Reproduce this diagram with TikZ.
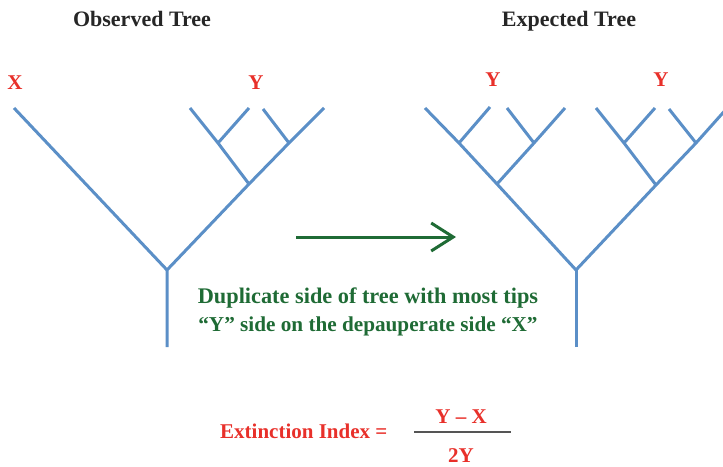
\documentclass[tikz,border=0pt]{standalone}
\usepackage{fontspec}
\setmainfont{Liberation Serif}
\usetikzlibrary{arrows.meta}
\definecolor{treeblue}{HTML}{5B8FC7}
\definecolor{labred}{HTML}{E8302A}
\definecolor{dkgreen}{HTML}{1F6B35}
\definecolor{fracgray}{HTML}{555555}
\tikzset{
  branch/.style={draw=treeblue, line width=3pt, line cap=butt, line join=miter},
  titletext/.style={font=\bfseries\fontsize{22}{26}\selectfont, text=black!85, inner sep=0pt, anchor=base},
  tiplabel/.style={font=\bfseries\fontsize{21}{26}\selectfont, text=labred, inner sep=0pt, anchor=base},
  notetext/.style={font=\bfseries\fontsize{22.3}{28}\selectfont, text=dkgreen, inner sep=0pt, anchor=base},
  formtext/.style={font=\bfseries\fontsize{21}{26}\selectfont, text=labred, inner sep=0pt, anchor=base},
}
\begin{document}
\begin{tikzpicture}[x=1pt,y=-1pt]
\useasboundingbox (0,0) rectangle (723,466);
% titles
\node[titletext] (t1) at (142,26) {Observed Tree};
\node[titletext] (t2) at (569,26) {Expected Tree};
% tip labels
\node[tiplabel] (lx) at (15,89) {X};
\node[tiplabel] (ly) at (256,89) {Y};
\node[tiplabel] (ly1) at (493,86) {Y};
\node[tiplabel] (ly2) at (661,86) {Y};
% observed tree
\coordinate (xa) at (14,108);
\coordinate (r1) at (167,270);
\coordinate (b1) at (167,347);
\coordinate (o1) at (190,108);
\coordinate (o2) at (249,108);
\coordinate (o3) at (263,109);
\coordinate (o4) at (324,108);
\coordinate (n1) at (218,143);
\coordinate (n2) at (289,143);
\coordinate (n3) at (249,184);
\draw[branch] (xa) -- (r1);
\draw[branch] (b1) -- (r1) -- (n3) -- (n2) -- (o4);
\draw[branch] (n3) -- (n1) -- (o1);
\draw[branch] (n1) -- (o2);
\draw[branch] (n2) -- (o3);
% expected tree
\coordinate (r2) at (576,270);
\coordinate (b2) at (576,347);
\coordinate (u1) at (425,108);
\coordinate (u2) at (490,107);
\coordinate (u3) at (507,108);
\coordinate (u4) at (565,108);
\coordinate (m1) at (459,143);
\coordinate (m2) at (534,143);
\coordinate (m3) at (497,184);
\coordinate (v1) at (596,108);
\coordinate (v2) at (655,108);
\coordinate (v3) at (669,109);
\coordinate (v4) at (729,106);
\coordinate (k1) at (624,143);
\coordinate (k2) at (696,143);
\coordinate (k3) at (656,185);
\draw[branch] (b2) -- (r2);
\draw[branch] (r2) -- (m3) -- (m1) -- (u1);
\draw[branch] (m1) -- (u2);
\draw[branch] (m3) -- (m2) -- (u4);
\draw[branch] (m2) -- (u3);
\draw[branch] (r2) -- (k3) -- (k2) -- (v4);
\draw[branch] (k3) -- (k1) -- (v1);
\draw[branch] (k1) -- (v2);
\draw[branch] (k2) -- (v3);
% arrow
\coordinate (as) at (296,237);
\coordinate (ae) at (456,237);
\draw[dkgreen, line width=3pt, -{Straight Barb[length=22pt,width=28pt,line width=3pt]}] (as) -- (ae);
% note
\node[notetext] (d1) at (368,303) {Duplicate side of tree with most tips};
\node[notetext, font=\bfseries\fontsize{21.2}{28}\selectfont] (d2) at (368,331) {“Y” side on the depauperate side “X”};
% formula
\node[formtext, anchor=base west] (ei) at (220,438) {Extinction Index =};
\node[formtext] (num) at (461,423) {Y – X};
\node[formtext, text depth=0pt] (den) at (461,462) {2Y};
\coordinate (fl) at (414,432);
\coordinate (fr) at (511,432);
\draw[fracgray, line width=2pt] (fl) -- (fr);
\end{tikzpicture}
\end{document}
